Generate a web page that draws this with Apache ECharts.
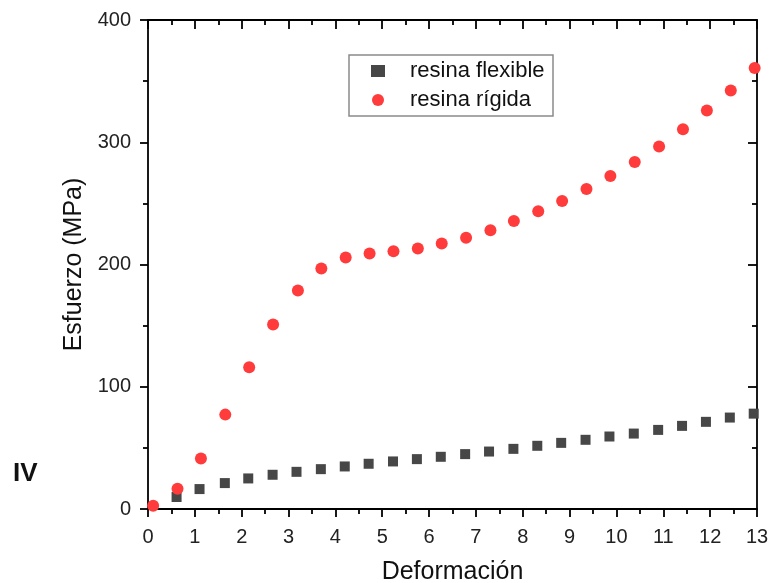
<!DOCTYPE html>
<html>
<head>
<meta charset="utf-8">
<script src="https://cdn.jsdelivr.net/npm/echarts@6/dist/echarts.min.js"></script>
<style>
html,body{margin:0;padding:0;background:#fff;}
#c{width:769px;height:583px;}
</style>
</head>
<body>
<div id="c"></div>
<script>
const seriesNames = ['resina flexible', 'resina rígida'];
const flexX = [0.61, 1.10, 1.64, 2.14, 2.66, 3.17, 3.69, 4.20, 4.71, 5.23, 5.74, 6.25, 6.77, 7.28, 7.80, 8.31, 8.82, 9.34, 9.85, 10.37, 10.89, 11.40, 11.91, 12.42, 12.93];
const flexY = [9.8, 16.3, 21.2, 25.0, 28.0, 30.4, 32.6, 34.8, 37.0, 38.9, 40.8, 42.7, 44.9, 47.0, 49.2, 51.7, 54.1, 56.6, 59.3, 61.7, 64.7, 68.0, 71.3, 74.8, 78.0];
const rigidX = [0.11, 0.63, 1.13, 1.65, 2.16, 2.67, 3.20, 3.70, 4.22, 4.73, 5.24, 5.76, 6.27, 6.79, 7.31, 7.81, 8.33, 8.84, 9.36, 9.87, 10.39, 10.91, 11.42, 11.93, 12.44, 12.95];
const rigidY = [2.7, 16.6, 41.3, 77.2, 115.9, 151.0, 178.8, 196.7, 205.7, 209.0, 210.9, 213.1, 217.1, 221.8, 228.1, 235.6, 243.5, 251.9, 261.7, 272.3, 283.8, 296.6, 310.7, 326.0, 342.3, 360.8];
const xTitle = 'Deformación';
const yTitle = 'Esfuerzo (MPa)';
const panelLabel = 'IV';

const FONT = '"Liberation Sans", Arial, sans-serif';
const axisLineStyle = {color: '#000', width: 1.8};

function pairs(xs, ys) { return xs.map((x, i) => [x, ys[i]]); }

const chart = echarts.init(document.getElementById('c'), null, {renderer: 'canvas'});
chart.setOption({
  animation: false,
  backgroundColor: '#fff',
  grid: {left: 148, right: 12, top: 20, bottom: 74, containLabel: false, outerBoundsMode: 'none'},
  xAxis: [{
    type: 'value', min: 0, max: 13, interval: 1, position: 'bottom',
    name: xTitle, nameLocation: 'middle', nameGap: 51,
    nameTextStyle: {fontFamily: FONT, fontSize: 25, color: '#111'},
    axisLine: {show: true, onZero: false, lineStyle: axisLineStyle},
    axisTick: {show: true, inside: false, length: 8, lineStyle: axisLineStyle},
    minorTick: {show: true, splitNumber: 2, length: 5, lineStyle: axisLineStyle},
    axisLabel: {fontFamily: FONT, fontSize: 20, color: '#222', margin: 18},
    splitLine: {show: false}
  }, {
    type: 'value', min: 0, max: 13, interval: 1, position: 'top',
    axisLine: {show: true, onZero: false, lineStyle: axisLineStyle},
    axisTick: {show: true, inside: true, length: 9, lineStyle: axisLineStyle},
    minorTick: {show: true, splitNumber: 2, length: 5, lineStyle: axisLineStyle},
    axisLabel: {show: false},
    splitLine: {show: false}
  }],
  yAxis: [{
    type: 'value', min: 0, max: 400, interval: 100, position: 'left',
    name: yTitle, nameLocation: 'middle', nameGap: 51,
    nameTextStyle: {fontFamily: FONT, fontSize: 25, color: '#111'},
    axisLine: {show: true, onZero: false, lineStyle: axisLineStyle},
    axisTick: {show: true, inside: false, length: 8, lineStyle: axisLineStyle},
    minorTick: {show: true, splitNumber: 2, length: 5, lineStyle: axisLineStyle},
    axisLabel: {fontFamily: FONT, fontSize: 20, color: '#222', margin: 17},
    splitLine: {show: false}
  }, {
    type: 'value', min: 0, max: 400, interval: 100, position: 'right',
    axisLine: {show: true, onZero: false, lineStyle: axisLineStyle},
    axisTick: {show: true, inside: true, length: 9, lineStyle: axisLineStyle},
    minorTick: {show: true, splitNumber: 2, length: 5, lineStyle: axisLineStyle},
    axisLabel: {show: false},
    splitLine: {show: false}
  }],
  legend: {
    orient: 'vertical', left: 349, top: 55,
    padding: [5, 4, 5, 22],
    itemGap: 7, itemWidth: 14, itemHeight: 12,
    borderColor: '#8a8a8a', borderWidth: 1.5,
    textStyle: {fontFamily: FONT, fontSize: 22, color: '#111', lineHeight: 22, width: 139, padding: [0, 0, 0, 20]},
    data: [{name: seriesNames[0], icon: 'rect'}, {name: seriesNames[1], icon: 'circle'}]
  },
  graphic: [{
    type: 'text', left: 13, top: 461,
    style: {text: panelLabel, font: 'bold 26px ' + FONT, fill: '#111'}
  }],
  series: [{
    name: seriesNames[0], type: 'scatter', symbol: 'rect', symbolSize: 10,
    itemStyle: {color: '#474747', opacity: 1},
    data: pairs(flexX, flexY)
  }, {
    name: seriesNames[1], type: 'scatter', symbol: 'circle', symbolSize: 12,
    itemStyle: {color: '#ff3b3b', opacity: 1},
    data: pairs(rigidX, rigidY), clip: false
  }]
});
</script>
</body>
</html>
